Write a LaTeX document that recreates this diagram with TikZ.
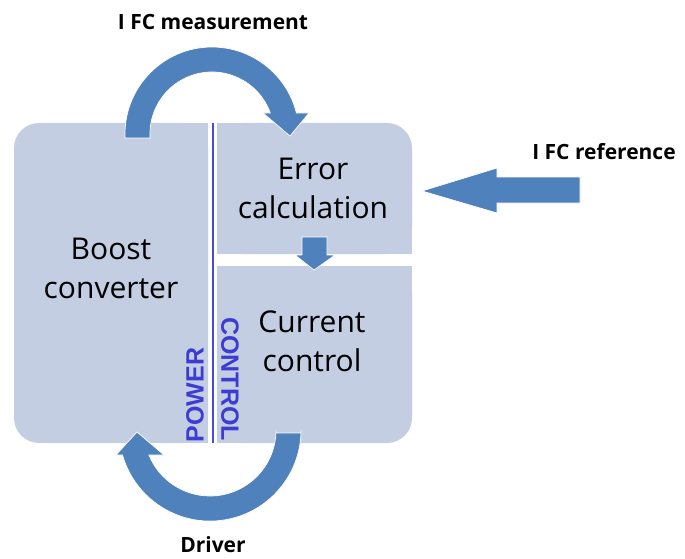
\documentclass[tikz,border=0pt]{standalone}
\usepackage{fontspec}
\setmainfont{Open Sans}
\newfontfamily\sidefont{Liberation Sans}
\definecolor{boxfill}{HTML}{C4CEE3}
\definecolor{arrowcol}{HTML}{4F81BD}
\definecolor{tagblue}{HTML}{3C3CD2}
\definecolor{divider}{HTML}{4A4ADC}
\begin{document}
\begin{tikzpicture}[x=1pt,y=-1pt,
  panel/.style={fill=boxfill},
  blockarrow/.style={fill=arrowcol, draw=white, line width=0.7pt, line join=miter},
  boxtext/.style={font=\fontsize{30}{39}\selectfont, align=center, text=black, inner sep=0pt},
  flowlabel/.style={font=\bfseries\fontsize{21}{24}\selectfont, text=black, inner sep=0pt},
  sidetag/.style={font=\sidefont\bfseries\fontsize{25}{28}\selectfont, text=tagblue, inner sep=0pt}]
\useasboundingbox (0,0) rectangle (685,559);

% power stage panel (rounded on the left)
\fill[panel, rounded corners=25pt] (14,123) rectangle (208,443);
\fill[panel] (120,123) rectangle (208,443);
% error calculation panel (rounded top right)
\fill[panel, rounded corners=25pt] (217,123) rectangle (412,254);
\fill[panel] (217,123) rectangle (350,254);
\fill[panel] (217,170) rectangle (412,254);
% current control panel (rounded bottom right)
\fill[panel, rounded corners=25pt] (217,266) rectangle (412,443);
\fill[panel] (217,266) rectangle (412,400);
\fill[panel] (217,266) rectangle (350,443);

% divider between power and control
\draw[divider, line width=2pt] (213,123) -- (213,443);

% measurement feedback arrow (top)
\fill[blockarrow] (125,138) -- (125,134) arc[start angle=180, end angle=346, radius=87]
  -- (309,113) -- (290,136) -- (263,113) -- (270.3,113)
  arc[start angle=340.2, end angle=180, radius=62] -- (150,138) -- cycle;

% driver arrow (bottom)
\fill[blockarrow] (276,433) -- (276,430) arc[start angle=0, end angle=157.7, radius=66]
  -- (164,455) -- (137,432) -- (116,455) -- (122.5,455)
  arc[start angle=164.1, end angle=0, radius=91] -- (301,433) -- cycle;

% error to current control arrow
\fill[blockarrow] (302,237) -- (327,237) -- (327,255) -- (335,255) -- (314,270)
  -- (295,255) -- (302,255) -- cycle;

% reference input arrow
\fill[blockarrow] (580,177) -- (497,177) -- (497,168) -- (422,191) -- (497,213)
  -- (497,203) -- (580,203) -- cycle;

% texts
\node[boxtext] (boost) at (111,268) {Boost\\converter};
\node[boxtext] (err) at (313,188) {Error\\calculation};
\node[boxtext] (cur) at (312,341) {Current\\control};
\node[flowlabel] (meas) at (213,22) {I FC measurement};
\node[flowlabel] (ref) at (604,152) {I FC reference};
\node[flowlabel] (drv) at (213,545) {Driver};
\node[sidetag, rotate=90] (pow) at (195,395) {POWER};
\node[sidetag, rotate=-90] (ctl) at (230,379) {CONTROL};
\end{tikzpicture}
\end{document}
